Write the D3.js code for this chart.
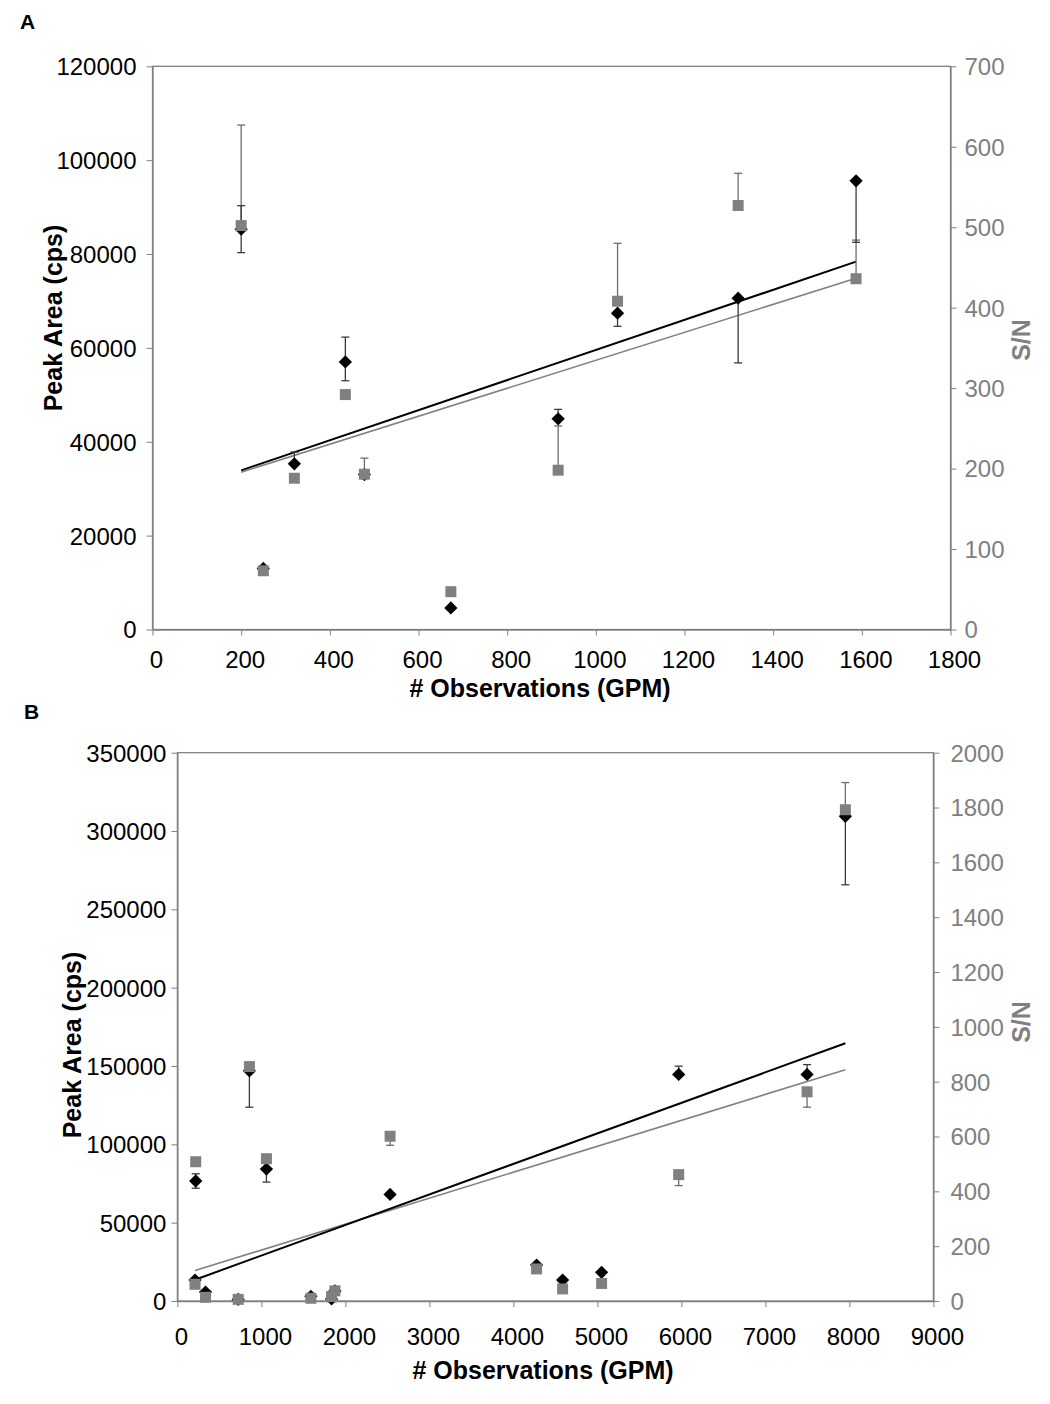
<!DOCTYPE html>
<html><head><meta charset="utf-8">
<script src="https://cdn.jsdelivr.net/npm/d3@7"></script>
<style>body{margin:0;background:#fff} text{font-family:"Liberation Sans", Arial, sans-serif}</style>
</head><body><svg id="c" width="1050" height="1404"></svg>
<script>
// ---------- Panel A data ----------
const aObs        = [200, 250, 320, 435, 478, 673, 915, 1049, 1321, 1587];
const aPeak       = [85300, 13000, 35300, 57000, 33000, 4600, 44900, 67400, 70600, 95600];
const aPeakErrUp  = [5000, 0, 2500, 5300, 0, 0, 2000, 0, 0, 0];
const aPeakErrDn  = [5000, 0, 0, 4000, 0, 0, 0, 2800, 13800, 13100];
const aSN         = [502, 73, 188, 292, 193, 47, 198, 408, 527, 436];
const aSNErrUp    = [125, 0, 0, 0, 20, 0, 55, 72, 40, 48];
const aSNErrDn    = [0, 0, 0, 0, 0, 0, 0, 0, 0, 0];
const aXTicks     = [0, 200, 400, 600, 800, 1000, 1200, 1400, 1600, 1800];
const aLeftTicks  = [0, 20000, 40000, 60000, 80000, 100000, 120000];
const aRightTicks = [0, 100, 200, 300, 400, 500, 600, 700];

// ---------- Panel B data ----------
const bObs        = [218, 210, 335, 724, 857, 1060, 1589, 1835, 1875, 2532, 4276, 4586, 5050, 5968, 7496, 7952];
const bPeak       = [76600, 13400, 5700, 1000, 146900, 84250, 3000, 1300, 6400, 68000, 22950, 13400, 18300, 144600, 144600, 309400];
const bPeakErrUp  = [4600, 0, 0, 0, 0, 0, 0, 0, 0, 0, 0, 0, 0, 5300, 6300, 0];
const bPeakErrDn  = [4600, 0, 0, 0, 23200, 8350, 0, 0, 0, 0, 0, 0, 0, 0, 0, 43700];
const bSN         = [508, 61, 13.5, 6, 855, 519, 10, 16, 37, 601, 117, 44, 64, 461, 763, 1792];
const bSNErrUp    = [0, 0, 0, 0, 0, 0, 0, 0, 0, 0, 0, 0, 0, 0, 0, 99];
const bSNErrDn    = [0, 0, 0, 0, 0, 0, 0, 0, 0, 33, 0, 0, 0, 40, 56, 0];
const bXTicks     = [0, 1000, 2000, 3000, 4000, 5000, 6000, 7000, 8000, 9000];
const bLeftTicks  = [0, 50000, 100000, 150000, 200000, 250000, 300000, 350000];
const bRightTicks = [0, 200, 400, 600, 800, 1000, 1200, 1400, 1600, 1800, 2000];

const GRAY = "#808080";
const svg = d3.select("#c");

function regression(xs, ys) {
  const mx = d3.mean(xs), my = d3.mean(ys);
  let sxy = 0, sxx = 0;
  xs.forEach((x, i) => { sxy += (x - mx) * (ys[i] - my); sxx += (x - mx) * (x - mx); });
  const m = sxy / sxx;
  return x => my + m * (x - mx);
}

function panel(o) {
  const g = svg.append("g");
  const x = d3.scaleLinear().domain([0, o.xMax]).range([o.left, o.right]);
  const yL = d3.scaleLinear().domain([0, o.lMax]).range([o.bottom, o.top]);
  const yR = d3.scaleLinear().domain([0, o.rMax]).range([o.bottom, o.top]);

  // frame
  g.append("rect").attr("x", o.left).attr("y", o.top)
    .attr("width", o.right - o.left).attr("height", o.bottom - o.top)
    .attr("fill", "none").attr("stroke", GRAY).attr("stroke-width", 1.3);

  // axes
  const ax = g.append("g").attr("transform", `translate(0,${o.bottom})`)
    .call(d3.axisBottom(x).tickValues(o.xTicks).tickSize(6).tickSizeOuter(0).tickFormat(d3.format("d")));
  ax.selectAll("text").attr("font-size", 24).attr("fill", "#000")
    .attr("y", o.xLabelDy).attr("dy", 0).attr("dx", 3.5);
  const al = g.append("g").attr("transform", `translate(${o.left},0)`)
    .call(d3.axisLeft(yL).tickValues(o.lTicks).tickSize(6).tickSizeOuter(0).tickFormat(d3.format("d")));
  al.selectAll("text").attr("font-size", 24).attr("fill", "#000").attr("x", -o.lLabelGap).attr("dy", "0.35em");
  const ar = g.append("g").attr("transform", `translate(${o.right},0)`)
    .call(d3.axisRight(yR).tickValues(o.rTicks).tickSize(6).tickSizeOuter(0).tickFormat(d3.format("d")));
  ar.selectAll("text").attr("font-size", 24).attr("fill", GRAY).attr("x", o.rLabelGap).attr("dy", "0.35em");
  [ax, al, ar].forEach(a => {
    a.selectAll("path").attr("stroke", GRAY).attr("stroke-width", 1.3);
    a.selectAll("line").attr("stroke", GRAY).attr("stroke-width", 1);
    a.attr("font-family", null);
  });

  // titles
  g.append("text").attr("x", o.xTitleX).attr("y", o.xTitleY).attr("text-anchor", "middle")
    .attr("font-size", 25).attr("font-weight", "bold").attr("fill", "#000").text("# Observations (GPM)");
  g.append("text").attr("transform", `translate(${o.lTitleX},${o.lTitleY}) rotate(-90)`).attr("text-anchor", "middle")
    .attr("font-size", 25).attr("font-weight", "bold").attr("fill", "#000").text("Peak Area (cps)");
  g.append("text").attr("transform", `translate(${o.rTitleX},${o.rTitleY}) rotate(-90)`).attr("text-anchor", "middle")
    .attr("font-size", 25).attr("font-weight", "bold").attr("fill", GRAY).text("S/N");
  g.append("text").attr("x", o.letterX).attr("y", o.letterY)
    .attr("font-size", 21).attr("font-weight", "bold").attr("fill", "#000").text(o.letter);

  // trend lines
  const x0 = d3.min(o.obs), x1 = d3.max(o.obs);
  const fP = regression(o.obs, o.peak), fS = regression(o.obs, o.sn);
  g.append("line").attr("x1", x(x0)).attr("x2", x(x1)).attr("y1", yR(fS(x0))).attr("y2", yR(fS(x1)))
    .attr("stroke", GRAY).attr("stroke-width", 1.6);
  g.append("line").attr("x1", x(x0)).attr("x2", x(x1)).attr("y1", yL(fP(x0))).attr("y2", yL(fP(x1)))
    .attr("stroke", "#000").attr("stroke-width", 2);

  // error bars
  function errBars(vals, up, dn, yS, color) {
    vals.forEach((v, i) => {
      const cx = x(o.obs[i]);
      [[up[i], 1], [dn[i], -1]].forEach(([e, s]) => {
        if (!e) return;
        const y0 = yS(v), y1 = yS(v + s * e);
        g.append("line").attr("x1", cx).attr("x2", cx).attr("y1", y0).attr("y2", y1)
          .attr("stroke", color).attr("stroke-width", 1.3);
        g.append("line").attr("x1", cx - 4).attr("x2", cx + 4).attr("y1", y1).attr("y2", y1)
          .attr("stroke", color).attr("stroke-width", 1.3);
      });
    });
  }
  errBars(o.sn, o.snUp, o.snDn, yR, "#6e6e6e");
  errBars(o.peak, o.peakUp, o.peakDn, yL, "#3a3a3a");

  // markers: diamonds then squares
  g.selectAll(".dia").data(o.peak).join("path")
    .attr("d", d3.symbol().type(d3.symbolSquare).size(88))
    .attr("transform", (d, i) => `translate(${x(o.obs[i])},${yL(d)}) rotate(45)`)
    .attr("fill", "#000");
  g.selectAll(".sq").data(o.sn).join("path")
    .attr("d", d3.symbol().type(d3.symbolSquare).size(121))
    .attr("transform", (d, i) => `translate(${x(o.obs[i])},${yR(d)})`)
    .attr("fill", GRAY);
}

panel({
  letter: "A", letterX: 20, letterY: 29,
  left: 152.5, right: 950.5, top: 66.3, bottom: 629.5,
  xMax: 1800, lMax: 120000, rMax: 700,
  xTicks: aXTicks, lTicks: aLeftTicks, rTicks: aRightTicks,
  xLabelDy: 38, lLabelGap: 16, rLabelGap: 14,
  xTitleX: 540, xTitleY: 697, lTitleX: 62, lTitleY: 318, rTitleX: 1030, rTitleY: 340,
  obs: aObs, peak: aPeak, peakUp: aPeakErrUp, peakDn: aPeakErrDn,
  sn: aSN, snUp: aSNErrUp, snDn: aSNErrDn
});

panel({
  letter: "B", letterX: 24, letterY: 719,
  left: 177.4, right: 933.4, top: 752.7, bottom: 1301,
  xMax: 9000, lMax: 350000, rMax: 2000,
  xTicks: bXTicks, lTicks: bLeftTicks, rTicks: bRightTicks,
  xLabelDy: 44, lLabelGap: 11, rLabelGap: 17,
  xTitleX: 543, xTitleY: 1379, lTitleX: 81, lTitleY: 1045, rTitleX: 1030, rTitleY: 1022,
  obs: bObs, peak: bPeak, peakUp: bPeakErrUp, peakDn: bPeakErrDn,
  sn: bSN, snUp: bSNErrUp, snDn: bSNErrDn
});
</script></body></html>
